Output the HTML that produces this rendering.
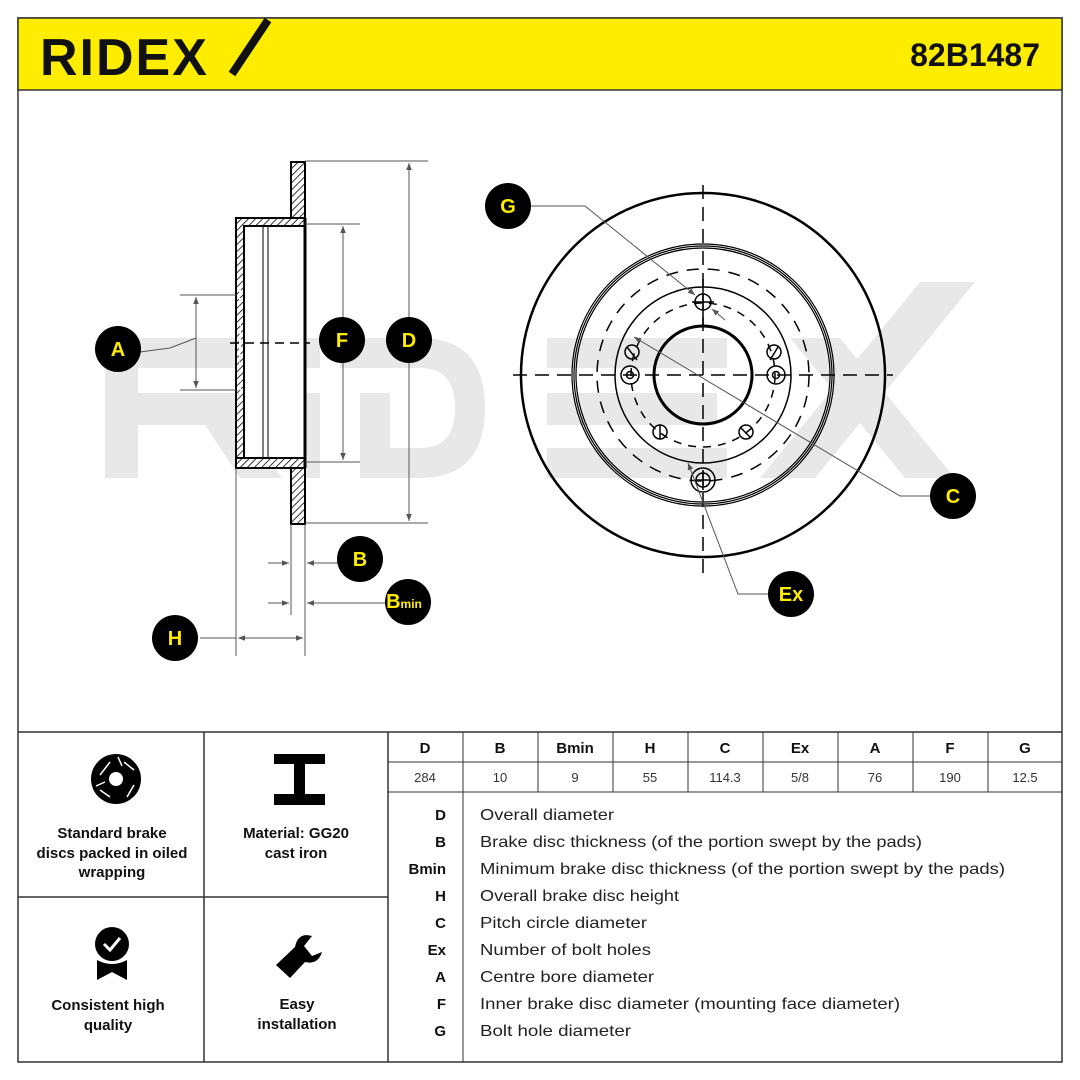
<!DOCTYPE html>
<html><head><meta charset="utf-8"><style>
body{margin:0;background:#fff}
svg{display:block}
text{font-family:"Liberation Sans",sans-serif}
</style></head><body>
<svg width="1080" height="1080" viewBox="0 0 1080 1080" xmlns="http://www.w3.org/2000/svg">
<defs>
<pattern id="h" width="5" height="5" patternUnits="userSpaceOnUse" patternTransform="rotate(45)"><rect width="5" height="5" fill="#fff"/><line x1="0" y1="0" x2="0" y2="5" stroke="#000" stroke-width="1.6"/></pattern>
<marker id="ar" viewBox="0 0 10 10" refX="10" refY="5" markerWidth="7" markerHeight="7" orient="auto-start-reverse"><path d="M0,1 L10,5 L0,9 z" fill="#555"/></marker>
</defs>
<rect x="18" y="18" width="1044" height="1044" fill="#fff" stroke="#333" stroke-width="1.5"/>
<rect x="18" y="18" width="1044" height="72" fill="#ffed00" stroke="#333" stroke-width="1.5"/>
<text x="40" y="75" font-size="52" font-weight="bold" letter-spacing="2" fill="#111">RIDEX</text>
<path d="M232,74 L268,20" stroke="#111" stroke-width="8"/>
<text x="1040" y="66" font-size="32" font-weight="bold" text-anchor="end" fill="#111">82B1487</text>
<!-- watermark -->
<g fill="#e8e8e8">
<path d="M105,478 V355 Q105,338 122,338 H250 Q280,338 280,368 V395 Q280,425 250,425 H138 V393 H248 V368 H138 V478 z"/>
<path d="M205,425 H245 L282,478 H240 z"/>
<rect x="290" y="393" width="30" height="85"/>
<rect x="290" y="338" width="30" height="30"/>
<path d="M340,338 H420 Q485,338 485,408 Q485,478 420,478 H360 V393 H390 V448 H420 Q455,448 455,408 Q455,368 420,368 H340 z"/>
<rect x="547" y="338" width="180" height="30"/>
<rect x="547" y="393" width="170" height="32"/>
<rect x="547" y="448" width="180" height="30"/>
<polygon points="760,478 815,478 975,282 920,282"/>
<polygon points="790,338 840,338 955,478 905,478"/>
</g>
<!-- side view -->
<g stroke="#000">
<rect x="291" y="162" width="14" height="56" fill="url(#h)" stroke-width="2"/>
<rect x="291" y="468" width="14" height="56" fill="url(#h)" stroke-width="2"/>
<path d="M236,218 L236,466 L244,466 L244,226 L305,226 L305,218 z" fill="url(#h)" stroke-width="2"/>
<path d="M236,458 L305,458 L305,468 L236,468 z" fill="url(#h)" stroke-width="2"/>
<rect x="244" y="226" width="61" height="232" fill="#fff" stroke-width="2"/>
<line x1="263" y1="226" x2="263" y2="458" stroke-width="1"/>
<line x1="268" y1="226" x2="268" y2="458" stroke-width="1"/>
<line x1="305" y1="218" x2="305" y2="468" stroke-width="3"/>
<line x1="240" y1="290" x2="240" y2="390" stroke-width="2" stroke="#fff" stroke-dasharray="4 4"/>
<line x1="230" y1="343" x2="310" y2="343" stroke-width="1.5" stroke-dasharray="9 6"/>
</g>
<g stroke="#555" stroke-width="1" fill="none">
<line x1="305" y1="161" x2="428" y2="161"/><line x1="305" y1="523" x2="428" y2="523"/>
<line x1="409" y1="163" x2="409" y2="521" marker-start="url(#ar)" marker-end="url(#ar)"/>
<line x1="305" y1="224" x2="360" y2="224"/><line x1="305" y1="462" x2="360" y2="462"/>
<line x1="343" y1="226" x2="343" y2="460" marker-start="url(#ar)" marker-end="url(#ar)"/>
<line x1="180" y1="295" x2="236" y2="295"/><line x1="180" y1="390" x2="236" y2="390"/>
<line x1="196" y1="297" x2="196" y2="388" marker-start="url(#ar)" marker-end="url(#ar)"/>
<polyline points="140,352 170,348 196,338"/>
<line x1="236" y1="468" x2="236" y2="656"/>
<line x1="291" y1="524" x2="291" y2="615"/><line x1="305" y1="524" x2="305" y2="656"/>
<line x1="268" y1="563" x2="289" y2="563" marker-end="url(#ar)"/>
<line x1="338" y1="563" x2="307" y2="563" marker-end="url(#ar)"/>
<line x1="268" y1="603" x2="289" y2="603" marker-end="url(#ar)"/>
<line x1="385" y1="603" x2="307" y2="603" marker-end="url(#ar)"/>
<line x1="200" y1="638" x2="236" y2="638"/>
<line x1="238" y1="638" x2="303" y2="638" marker-start="url(#ar)" marker-end="url(#ar)"/>
</g>
<!-- front view -->
<g fill="none" stroke="#000">
<circle cx="703" cy="375" r="182" stroke-width="2.5"/>
<circle cx="703" cy="375" r="131" stroke-width="1.2"/>
<circle cx="703" cy="375" r="129" stroke-width="1.2"/>
<circle cx="703" cy="375" r="127" stroke-width="1.2"/>
<circle cx="703" cy="375" r="106" stroke-width="1.5" stroke-dasharray="12 9"/>
<circle cx="703" cy="375" r="88" stroke-width="1.5"/>
<circle cx="703" cy="375" r="72" stroke-width="1.5" stroke-dasharray="8 7"/>
<circle cx="703" cy="375" r="49" stroke-width="3"/>
<g stroke-width="1.5">
<circle cx="703" cy="302" r="8"/><line x1="703" y1="279" x2="703" y2="326"/><line x1="692" y1="302" x2="714" y2="302"/>
<circle cx="632" cy="352" r="7"/><line x1="627" y1="347" x2="637" y2="360"/>
<circle cx="774" cy="352" r="7"/><line x1="778" y1="347" x2="770" y2="360"/>
<circle cx="630" cy="375" r="9"/><circle cx="630" cy="375" r="3.5"/>
<circle cx="776" cy="375" r="9"/><circle cx="776" cy="375" r="3.5"/>
<circle cx="660" cy="432" r="7"/><line x1="660" y1="425" x2="660" y2="439"/>
<circle cx="746" cy="432" r="7"/><line x1="740" y1="427" x2="750" y2="437"/>
<circle cx="703" cy="480" r="12"/><circle cx="703" cy="480" r="7"/><line x1="696" y1="480" x2="710" y2="480"/><line x1="703" y1="470" x2="703" y2="490"/>
</g>
<line x1="703" y1="185" x2="703" y2="575" stroke-width="1.5" stroke-dasharray="14 8"/>
<line x1="513" y1="375" x2="893" y2="375" stroke-width="1.5" stroke-dasharray="14 8"/>
</g>
<g stroke="#555" stroke-width="1" fill="none">
<polyline points="530,206 585,206 695,295" marker-end="url(#ar)"/>
<line x1="725" y1="320" x2="712" y2="309" marker-end="url(#ar)"/>
<polyline points="930,496 900,496 634,337" marker-end="url(#ar)"/>
<polyline points="768,594 738,594 688,463" marker-end="url(#ar)"/>
</g>
<!-- labels -->
<g font-weight="bold" font-size="20" fill="#ffed00" text-anchor="middle">
<circle cx="118" cy="349" r="23" fill="#000"/><text x="118" y="356">A</text>
<circle cx="342" cy="340" r="23" fill="#000"/><text x="342" y="347">F</text>
<circle cx="409" cy="340" r="23" fill="#000"/><text x="409" y="347">D</text>
<circle cx="360" cy="559" r="23" fill="#000"/><text x="360" y="566">B</text>
<circle cx="408" cy="602" r="23" fill="#000"/><text x="404" y="608">B<tspan font-size="12">min</tspan></text>
<circle cx="175" cy="638" r="23" fill="#000"/><text x="175" y="645">H</text>
<circle cx="508" cy="206" r="23" fill="#000"/><text x="508" y="213">G</text>
<circle cx="953" cy="496" r="23" fill="#000"/><text x="953" y="503">C</text>
<circle cx="791" cy="594" r="23" fill="#000"/><text x="791" y="601">Ex</text>
</g>
<!-- bottom table -->
<g stroke="#333" stroke-width="1.5">
<line x1="18" y1="732" x2="1062" y2="732"/>
<line x1="204" y1="732" x2="204" y2="1062"/>
<line x1="388" y1="732" x2="388" y2="1062"/>
<line x1="18" y1="897" x2="388" y2="897"/>
<line x1="388" y1="762" x2="1062" y2="762" stroke-width="1"/>
<line x1="388" y1="792" x2="1062" y2="792" stroke-width="1"/>
<g stroke-width="1">
<line x1="463" y1="732" x2="463" y2="1062"/><line x1="538" y1="732" x2="538" y2="792"/><line x1="613" y1="732" x2="613" y2="792"/><line x1="688" y1="732" x2="688" y2="792"/><line x1="763" y1="732" x2="763" y2="792"/><line x1="838" y1="732" x2="838" y2="792"/><line x1="913" y1="732" x2="913" y2="792"/><line x1="988" y1="732" x2="988" y2="792"/>
</g>
</g>
<g font-size="15" font-weight="bold" text-anchor="middle" fill="#111">
<text x="425" y="753">D</text><text x="500" y="753">B</text><text x="575" y="753">Bmin</text><text x="650" y="753">H</text><text x="725" y="753">C</text><text x="800" y="753">Ex</text><text x="875" y="753">A</text><text x="950" y="753">F</text><text x="1025" y="753">G</text>
</g>
<g font-size="13" text-anchor="middle" fill="#333">
<text x="425" y="782">284</text><text x="500" y="782">10</text><text x="575" y="782">9</text><text x="650" y="782">55</text><text x="725" y="782">114.3</text><text x="800" y="782">5/8</text><text x="875" y="782">76</text><text x="950" y="782">190</text><text x="1025" y="782">12.5</text>
</g>
<g font-size="15" font-weight="bold" text-anchor="end" fill="#111">
<text x="446" y="820">D</text><text x="446" y="847">B</text><text x="446" y="874">Bmin</text><text x="446" y="901">H</text><text x="446" y="928">C</text><text x="446" y="955">Ex</text><text x="446" y="982">A</text><text x="446" y="1009">F</text><text x="446" y="1036">G</text>
</g>
<g font-size="16" fill="#222">
<text x="480" y="820" textLength="134" lengthAdjust="spacingAndGlyphs">Overall diameter</text>
<text x="480" y="847" textLength="442" lengthAdjust="spacingAndGlyphs">Brake disc thickness (of the portion swept by the pads)</text>
<text x="480" y="874" textLength="525" lengthAdjust="spacingAndGlyphs">Minimum brake disc thickness (of the portion swept by the pads)</text>
<text x="480" y="901" textLength="199" lengthAdjust="spacingAndGlyphs">Overall brake disc height</text>
<text x="480" y="928" textLength="167" lengthAdjust="spacingAndGlyphs">Pitch circle diameter</text>
<text x="480" y="955" textLength="171" lengthAdjust="spacingAndGlyphs">Number of bolt holes</text>
<text x="480" y="982" textLength="174" lengthAdjust="spacingAndGlyphs">Centre bore diameter</text>
<text x="480" y="1009" textLength="420" lengthAdjust="spacingAndGlyphs">Inner brake disc diameter (mounting face diameter)</text>
<text x="480" y="1036" textLength="151" lengthAdjust="spacingAndGlyphs">Bolt hole diameter</text>
</g>
<g font-size="15" font-weight="bold" text-anchor="middle" fill="#111">
<text x="112" y="838">Standard brake</text><text x="112" y="858">discs packed in oiled</text><text x="112" y="877">wrapping</text>
<text x="296" y="838">Material: GG20</text><text x="296" y="858">cast iron</text>
<text x="108" y="1010">Consistent high</text><text x="108" y="1030">quality</text>
<text x="297" y="1009">Easy</text><text x="297" y="1029">installation</text>
</g>
<!-- icons -->
<circle cx="116" cy="779" r="25" fill="#000"/><circle cx="116" cy="779" r="7" fill="#fff"/>
<g stroke="#fff" stroke-width="1.5"><line x1="110" y1="762" x2="100" y2="775"/><line x1="124" y1="762" x2="134" y2="770"/><line x1="134" y1="785" x2="127" y2="797"/><line x1="110" y1="797" x2="100" y2="790"/><line x1="122" y1="766" x2="118" y2="757"/><line x1="105" y1="782" x2="96" y2="786"/></g>
<path d="M274,754 H325 V764 H305 V794 H325 V805 H274 V794 H294 V764 H274 z" fill="#000"/>
<circle cx="112" cy="944" r="17" fill="#000"/>
<path d="M104,944 L110,950 L120,938" stroke="#fff" stroke-width="3" fill="none"/>
<path d="M97,960 Q112,968 127,960 L127,980 L112,972 L97,980 z" fill="#000"/>
<path d="M276,965 L290,978 L305,962 Q318,965 322,952 L312,956 L304,946 L312,936 Q298,932 295,947 z" fill="#000"/>
</svg>
</body></html>
